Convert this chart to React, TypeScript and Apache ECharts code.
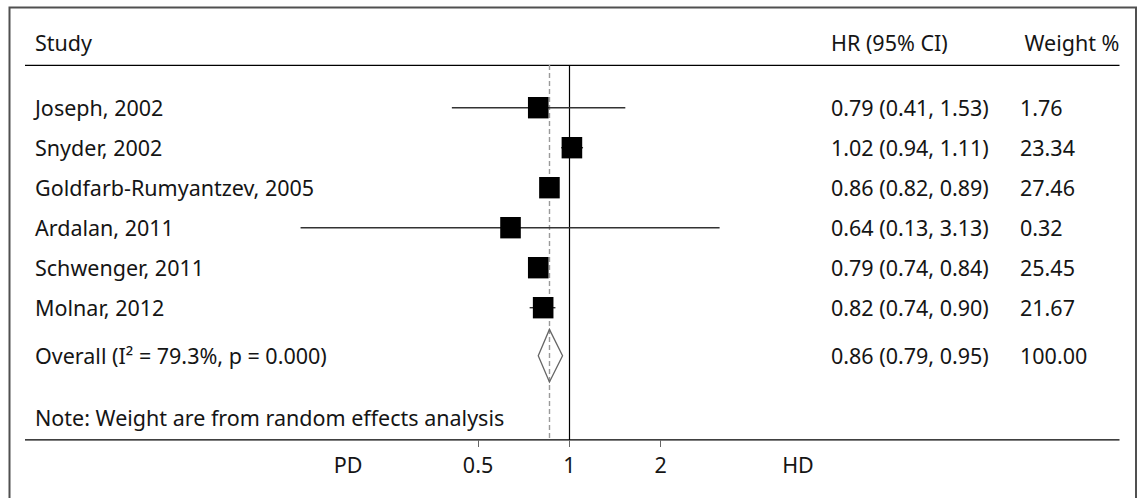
import React, { useEffect, useRef } from "react";
import * as echarts from "echarts";

// ---------- data ----------
const studies = [
  "Joseph, 2002",
  "Snyder, 2002",
  "Goldfarb-Rumyantzev, 2005",
  "Ardalan, 2011",
  "Schwenger, 2011",
  "Molnar, 2012",
];
const hr = [0.79, 1.02, 0.86, 0.64, 0.79, 0.82];
const ciLow = [0.41, 0.94, 0.82, 0.13, 0.74, 0.74];
const ciHigh = [1.53, 1.11, 0.89, 3.13, 0.84, 0.9];
const weights = [1.76, 23.34, 27.46, 0.32, 25.45, 21.67];

const overallLabel = "Overall (I\u00B2 = 79.3%, p = 0.000)";
const overallHr = 0.86;
const overallLow = 0.79;
const overallHigh = 0.95;
const overallWeight = 100.0;

const xTicks = [0.5, 1, 2];
const headers = ["Study", "HR (95% CI)", "Weight %"];
const sideLabels = ["PD", "HD"];
const noteText = "Note: Weight are from random effects analysis";

// ---------- layout ----------
const FONT = "'Noto Sans', 'Open Sans', sans-serif";
const FS = 21.5;
const TXT = "#151515";
const OVERALL_ROW = 6.2; // vertical slot of the pooled estimate
const COL_STUDY = 35;
const COL_HR = 831;
const COL_W = 1020;

export default function App() {
  const ref = useRef<HTMLDivElement>(null);

  useEffect(() => {
    if (!ref.current) return;
    const chart = echarts.init(ref.current, null, { renderer: "svg" });

    const studyData = studies.map((_, i) => [i, hr[i], ciLow[i], ciHigh[i]]);
    const tableData = studies.map((s, i) => [
      i,
      s,
      `${hr[i].toFixed(2)} (${ciLow[i].toFixed(2)}, ${ciHigh[i].toFixed(2)})`,
      weights[i].toFixed(2),
    ]);
    tableData.push([
      OVERALL_ROW,
      overallLabel,
      `${overallHr.toFixed(2)} (${overallLow.toFixed(2)}, ${overallHigh.toFixed(2)})`,
      overallWeight.toFixed(2),
    ]);

    const text = (x: number, y: number, t: string, align = "left") => ({
      type: "text",
      x,
      y,
      style: {
        text: t,
        fill: TXT,
        fontSize: FS,
        fontFamily: FONT,
        align,
        verticalAlign: "middle",
      },
    });

    const option: any = {
      animation: false,
      grid: { left: 21.5, width: 1095.6, top: 65, height: 375 },
      xAxis: {
        type: "log",
        logBase: 2,
        min: 1 / 64,
        max: 64,
        axisLine: { show: false, onZero: false },
        splitLine: { show: false },
        axisTick: {
          show: true,
          length: 7,
          customValues: xTicks,
          lineStyle: { color: "#666", width: 1 },
        },
        axisLabel: {
          customValues: xTicks,
          formatter: (v: number) => String(v),
          fontFamily: FONT,
          fontSize: FS,
          color: TXT,
          margin: 13,
        },
      },
      yAxis: {
        type: "value",
        inverse: true,
        min: -1.0675,
        max: 8.3075,
        show: false,
      },
      graphic: [
        {
          type: "rect",
          shape: { x: 9.5, y: 7.5, width: 1126.5, height: 520 },
          style: { fill: "none", stroke: "#505050", lineWidth: 2 },
          silent: true,
        },
        {
          type: "line",
          shape: { x1: 25, y1: 65.3, x2: 1119.5, y2: 65.3 },
          style: { stroke: "#000", lineWidth: 1.2 },
        },
        {
          type: "line",
          shape: { x1: 25, y1: 439.8, x2: 1119.5, y2: 439.8 },
          style: { stroke: "#000", lineWidth: 1.2 },
        },
        text(COL_STUDY, 42.5, headers[0]),
        text(COL_HR, 42.5, headers[1]),
        text(1024.5, 42.5, headers[2]),
        text(COL_STUDY, 417.5, noteText),
        text(348, 464.5, sideLabels[0], "center"),
        text(798, 464.5, sideLabels[1], "center"),
      ],
      series: [
        {
          type: "custom",
          name: "refs",
          z: 1,
          data: [[1, 0]],
          renderItem: () => ({ type: "group", children: [] }),
          markLine: {
            silent: true,
            symbol: "none",
            label: { show: false },
            data: [
              { xAxis: 1, lineStyle: { color: "#000", width: 1.2, type: "solid" } },
              { xAxis: overallHr, lineStyle: { color: "#9a9a9a", width: 1.4, type: [5, 3] } },
            ],
          },
        },
        {
          type: "custom",
          name: "studies",
          z: 5,
          data: studyData,
          encode: { x: [1, 2, 3], y: 0 },
          renderItem: (params: any, api: any) => {
            const row = api.value(0);
            const p = api.coord([api.value(1), row]);
            const l = api.coord([api.value(2), row]);
            const h = api.coord([api.value(3), row]);
            return {
              type: "group",
              children: [
                {
                  type: "line",
                  shape: { x1: l[0], y1: l[1], x2: h[0], y2: h[1] },
                  style: { stroke: "#333", lineWidth: 1.4 },
                },
                {
                  type: "rect",
                  shape: { x: p[0] - 10.3, y: p[1] - 10.7, width: 20.6, height: 21.4 },
                  style: { fill: "#000" },
                },
              ],
            };
          },
        },
        {
          type: "custom",
          name: "overall",
          z: 5,
          data: [[OVERALL_ROW, overallHr, overallLow, overallHigh]],
          encode: { x: [1, 2, 3], y: 0 },
          renderItem: (params: any, api: any) => {
            const row = api.value(0);
            const p = api.coord([api.value(1), row]);
            const l = api.coord([api.value(2), row]);
            const h = api.coord([api.value(3), row]);
            const half = 26.3;
            return {
              type: "polygon",
              shape: {
                points: [
                  [l[0], p[1]],
                  [p[0], p[1] - half],
                  [h[0], p[1]],
                  [p[0], p[1] + half],
                ],
              },
              style: { fill: "none", stroke: "#666", lineWidth: 1.3 },
            };
          },
        },
        {
          type: "custom",
          name: "table",
          z: 6,
          data: tableData,
          encode: { y: 0 },
          renderItem: (params: any, api: any) => {
            const d = tableData[params.dataIndex];
            const y = api.coord([1, d[0] as number])[1];
            return {
              type: "group",
              children: [
                text(COL_STUDY, y, d[1] as string),
                text(COL_HR, y, d[2] as string),
                text(COL_W, y, d[3] as string),
              ],
            };
          },
        },
      ],
    };

    chart.setOption(option);
    return () => chart.dispose();
  }, []);

  return (
    <div
      ref={ref}
      style={{ position: "absolute", left: 0, top: 0, width: 1143, height: 498, background: "#fff" }}
    />
  );
}
